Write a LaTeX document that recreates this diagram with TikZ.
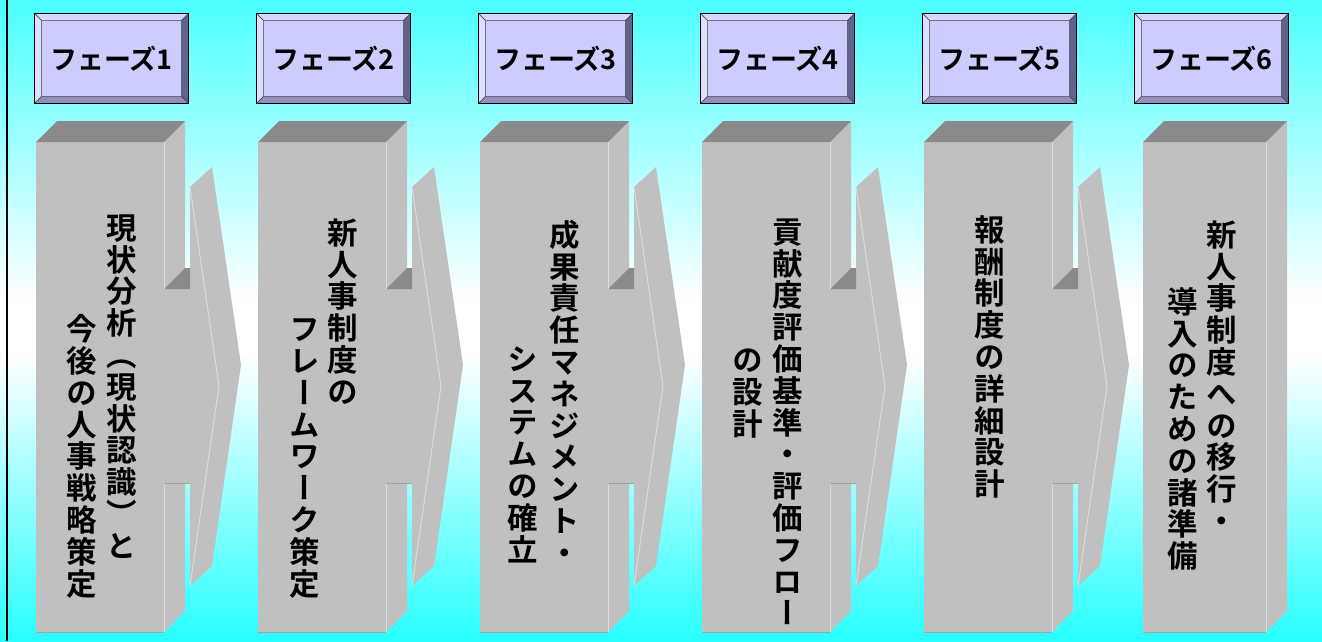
\documentclass[tikz,border=0pt]{standalone}
\usepackage{fontspec}
\newfontfamily\jpfont{Noto Sans CJK JP}[BoldFont={* Bold}]
\newfontfamily\jptate{Noto Sans CJK JP}[BoldFont={* Bold},RawFeature={+vert}]
\usetikzlibrary{calc}

\definecolor{bgtop}{HTML}{4CFFFF}
\definecolor{bgbot}{HTML}{28FFFF}
\definecolor{colgray}{HTML}{C0C0C0}
\definecolor{coldark}{HTML}{8A8A8A}
\definecolor{collight}{HTML}{DCDCDC}
\definecolor{colline}{HTML}{A4A4A4}
\definecolor{hdface}{HTML}{CCCCFF}
\definecolor{hdtop}{HTML}{D6D6FF}
\definecolor{hdleft}{HTML}{DEDEFF}
\definecolor{hdright}{HTML}{62628F}
\definecolor{hdbottom}{HTML}{9090BE}

% one character per line, for vertical writing
\makeatletter
\newcommand\tate[1]{\vbox{\baselineskip=31.8pt\lineskip=0pt\lineskiplimit=-100pt
  \@tfor\tate@c:=#1\do{\hbox to 31.8pt{\vrule height 27.5pt depth 4.3pt width 0pt\hss\tate@c\hss}}}}
\makeatother

\begin{document}
\begin{tikzpicture}[x=1pt, y=-1pt,
    phase box/.style={draw=black, line width=1.2pt, fill=hdface, minimum width=153pt, minimum height=89pt, inner sep=0pt,
      font=\jpfont\bfseries\fontsize{27pt}{28pt}\selectfont},
    tate line/.style={anchor=north, inner sep=0pt, font=\jptate\bfseries\fontsize{30.5pt}{31.8pt}\selectfont},
    bevel/.style={draw=black!75, line width=.6pt}]
    \useasboundingbox (0,0) rectangle (1322,641);

    % background
    \shade[top color=bgtop, bottom color=white] (0,0) rectangle (1322,300);
    \fill[white] (0,299) rectangle (1322,356);
    \shade[top color=white, bottom color=bgbot] (0,355) rectangle (1322,641);
    \draw[line width=2pt] (7,0) -- (7,641);

    % columns with arrows
    \foreach \fx/\w/\last in {36/128/0, 258/128/0, 480/128/0, 702/128/0, 924/128/0, 1143/123/1} {
        \ifnum\last=0
            \fill[colgray] (\fx+\w+26,187) -- (\fx+\w+48,167) -- (\fx+\w+77,365) -- (\fx+\w+48,566) -- (\fx+\w+26,586) -- cycle;
            \draw[collight, line width=1pt] (\fx+\w+26,187) -- (\fx+\w+55,386) -- (\fx+\w+26,586);
            \fill[colgray] (\fx+\w,142) -- (\fx+\w+21,121) -- (\fx+\w+21,268) -- (\fx+\w,289) -- cycle;
            \fill[colgray] (\fx+\w,289) rectangle (\fx+\w+26,483);
            \fill[coldark] (\fx+\w,289) -- (\fx+\w+21,268) -- (\fx+\w+26,268) -- (\fx+\w+26,289) -- cycle;
            \fill[colgray] (\fx+\w,483) -- (\fx+\w+21,483) -- (\fx+\w+21,611) -- (\fx+\w,632) -- cycle;
            \draw[colline, line width=1pt] (\fx+\w,483) -- (\fx+\w+26,483);
            \draw[collight, line width=1pt] (\fx+\w,142) -- (\fx+\w,289) (\fx+\w,484) -- (\fx+\w,632);
        \else
            \fill[colgray] (\fx+\w,142) -- (\fx+\w+21,121) -- (\fx+\w+21,611) -- (\fx+\w,632) -- cycle;
            \draw[collight, line width=1pt] (\fx+\w,142) -- (\fx+\w,632);
        \fi
        \fill[colgray] (\fx,142) rectangle (\fx+\w,632);
        \fill[coldark] (\fx,142) -- (\fx+21,121) -- (\fx+\w+21,121) -- (\fx+\w,142) -- cycle;
        \draw[colline, line width=1pt] (\fx,632) -- (\fx+\w,632);
    }

    % phase headers
    \foreach \hx [count=\i] in {35, 257, 479, 701, 923, 1135} {
        \node[phase box] (ph\i) at (\hx+76.5,58.5) {フェーズ\i};
        \filldraw[bevel, fill=hdtop] (ph\i.north west) -- (ph\i.north east) -- ($(ph\i.north east)+(-7,7)$) -- ($(ph\i.north west)+(7,7)$) -- cycle;
        \filldraw[bevel, fill=hdleft] (ph\i.north west) -- ($(ph\i.north west)+(7,7)$) -- ($(ph\i.south west)+(7,-7)$) -- (ph\i.south west) -- cycle;
        \filldraw[bevel, fill=hdright] (ph\i.north east) -- (ph\i.south east) -- ($(ph\i.south east)+(-7,-7)$) -- ($(ph\i.north east)+(-7,7)$) -- cycle;
        \filldraw[bevel, fill=hdbottom] (ph\i.south west) -- (ph\i.south east) -- ($(ph\i.south east)+(-7,-7)$) -- ($(ph\i.south west)+(7,-7)$) -- cycle;
        \draw[line width=1.2pt] (ph\i.north west) rectangle (ph\i.south east);
    }

    % vertical texts
    \node[tate line] (t1r) at (122,211.5) {\tate{現状分析（現状認識）と}};
    \node[tate line] (t1l) at (82,313) {\tate{今後の人事戦略策定}};
    \node[tate line] (t2r) at (343,216.5) {\tate{新人事制度の}};
    \node[tate line] (t2l) at (305,313) {\tate{フレームワーク策定}};
    \node[tate line] (t3r) at (565,218.5) {\tate{成果責任マネジメント・}};
    \node[tate line] (t3l) at (523,342.5) {\tate{システムの確立}};
    \node[tate line] (t4r) at (788,215.5) {\tate{貢献度評価基準・評価フロー}};
    \node[tate line] (t4l) at (748,344) {\tate{の設計}};
    \node[tate line] (t5) at (990,213.5) {\tate{報酬制度の詳細設計}};
    \node[tate line] (t6r) at (1222,218.5) {\tate{新人事制度への移行・}};
    \node[tate line] (t6l) at (1183,285.5) {\tate{導入のための諸準備}};
\end{tikzpicture}
\end{document}
